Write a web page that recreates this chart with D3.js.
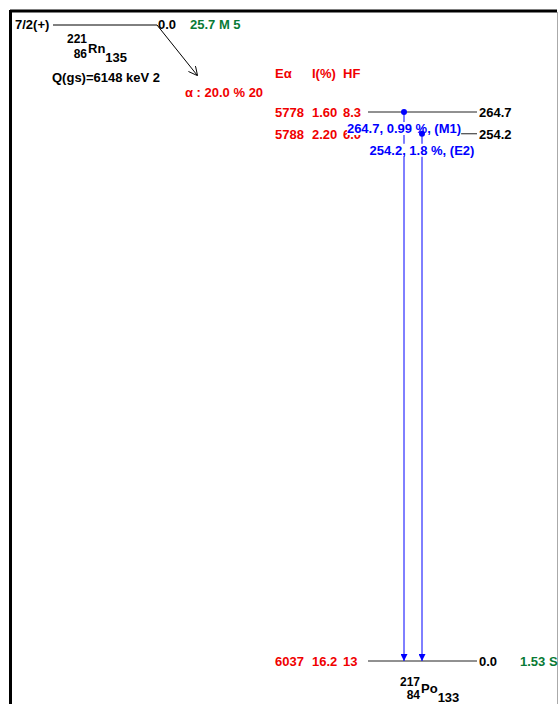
<html>
<head>
    <title>221Rn alpha decay</title>
    <style>
        body { margin: 0; background: #fff; }
        text { font-family: "Liberation Sans", Arial, sans-serif; font-weight: bold; font-size: 13px; }
        text.iso { font-size: 12px; }
    </style>
</head>
<body>
    <svg width="559" height="704"></svg>

    <script src="https://cdn.jsdelivr.net/npm/d3@7/dist/d3.min.js"></script>
    <script>
        // parent nucleus
        const parentSpin = "7/2(+)";
        const parentLevel = "0.0";
        const parentHalfLife = "25.7 M 5";
        const parentNuclide = { A: "221", Z: "86", sym: "Rn", N: "135" };
        const qValue = "Q(gs)=6148 keV 2";
        const alphaBranch = "\u03b1 : 20.0 % 20";

        // daughter levels (keV)
        const levelEnergies = [0, 254.2, 264.7];
        const levelLabels = ["0.0", "254.2", "264.7"];
        const levelHalfLives = ["1.53 S", "", ""];
        const daughterNuclide = { A: "217", Z: "84", sym: "Po", N: "133" };

        // alpha feeding table: E alpha, intensity, hindrance factor
        const alphaHeader = ["E\u03b1", "I(%)", "HF"];
        const alphaE = ["6037", "5788", "5778"];
        const alphaI = ["16.2", "2.20", "1.60"];
        const alphaHF = ["13", "6.0", "8.3"];

        // gammas
        const gammaFrom = [264.7, 254.2];
        const gammaTo = [0, 0];
        const gammaLabels = ["264.7, 0.99 %, (M1)", "254.2, 1.8 %, (E2)"];

        const red = "#f00000", green = "#087a35", blue = "#0000ff";

        const svg = d3.select("svg");

        // frame
        svg.append("line").attr("x1", 10).attr("y1", 11).attr("x2", 557).attr("y2", 11)
            .attr("stroke", "#000").attr("stroke-width", 3);
        svg.append("line").attr("x1", 10.5).attr("y1", 10).attr("x2", 10.5).attr("y2", 704)
            .attr("stroke", "#000").attr("stroke-width", 3);
        svg.append("line").attr("x1", 557.5).attr("y1", 12).attr("x2", 557.5).attr("y2", 704)
            .attr("stroke", "#aaa").attr("stroke-width", 1);

        const defs = svg.append("defs");
        defs.append("marker").attr("id", "open").attr("viewBox", "0 0 10 10")
            .attr("refX", 9).attr("refY", 5).attr("markerWidth", 9).attr("markerHeight", 9)
            .attr("orient", "auto").attr("markerUnits", "userSpaceOnUse")
            .append("path").attr("d", "M0,0 L10,5 L0,10").attr("fill", "none").attr("stroke", "#000");
        defs.append("marker").attr("id", "blueHead").attr("viewBox", "0 0 10 10")
            .attr("refX", 10).attr("refY", 5).attr("markerWidth", 9).attr("markerHeight", 7)
            .attr("orient", "auto").attr("markerUnits", "userSpaceOnUse")
            .append("path").attr("d", "M0,0 L10,5 L0,10 Z").attr("fill", blue);

        // parent level
        const pY = 25;
        svg.append("text").attr("x", 15).attr("y", pY + 4).text(parentSpin);
        svg.append("line").attr("x1", 53).attr("x2", 157).attr("y1", pY).attr("y2", pY)
            .attr("stroke", "#000");
        svg.append("text").attr("x", 158).attr("y", pY + 4).text(parentLevel);
        svg.append("text").attr("x", 190).attr("y", pY + 4).attr("fill", green).text(parentHalfLife);
        svg.append("line").attr("x1", 157).attr("y1", pY).attr("x2", 197).attr("y2", 75)
            .attr("stroke", "#000").attr("marker-end", "url(#open)");

        // A on top, Z below, symbol, N as subscript
        function nuclide(n, x, yA, yZ, ySym, yN) {
            svg.append("text").attr("class", "iso").attr("x", x).attr("y", yA)
                .attr("text-anchor", "end").text(n.A);
            svg.append("text").attr("class", "iso").attr("x", x).attr("y", yZ)
                .attr("text-anchor", "end").text(n.Z);
            const s = svg.append("text").attr("x", x + 1).attr("y", ySym).text(n.sym);
            const sw = s.node().getComputedTextLength();
            svg.append("text").attr("x", x + 1 + sw).attr("y", yN).text(n.N);
        }
        nuclide(parentNuclide, 87, 43, 58, 53, 62);
        svg.append("text").attr("x", 52).attr("y", 82).text(qValue);
        svg.append("text").attr("x", 185).attr("y", 97).attr("fill", red).text(alphaBranch);

        // daughter scheme
        const y = d3.scaleLinear().domain([0, d3.max(levelEnergies)]).range([661, 112]);
        const lineX0 = 368, lineX1 = 477;
        const cols = [275, 312, 343];

        svg.selectAll(".hdr").data(alphaHeader).join("text").attr("class", "hdr")
            .attr("x", (d, i) => cols[i]).attr("y", 78).attr("fill", red).text(d => d);

        const lv = svg.selectAll(".lvl").data(levelEnergies).join("g").attr("class", "lvl");
        lv.append("line").attr("x1", lineX0).attr("x2", lineX1)
            .attr("y1", d => y(d)).attr("y2", d => y(d)).attr("stroke", "#222");
        lv.append("text").attr("x", lineX1 + 2).attr("y", d => y(d) + 5).text((d, i) => levelLabels[i]);
        lv.append("text").attr("x", 520).attr("y", d => y(d) + 5).attr("fill", green)
            .text((d, i) => levelHalfLives[i]);
        [alphaE, alphaI, alphaHF].forEach((col, c) => {
            lv.append("text").attr("x", cols[c]).attr("y", d => y(d) + 5).attr("fill", red)
                .text((d, i) => col[i]);
        });

        const gx = d3.scalePoint().domain(gammaLabels).range([404, 422]);
        const gm = svg.selectAll(".gam").data(gammaLabels).join("g").attr("class", "gam");
        gm.append("line").attr("x1", d => gx(d)).attr("x2", d => gx(d))
            .attr("y1", (d, i) => y(gammaFrom[i])).attr("y2", (d, i) => y(gammaTo[i]))
            .attr("stroke", blue).attr("marker-end", "url(#blueHead)");
        gm.append("circle").attr("cx", d => gx(d)).attr("cy", (d, i) => y(gammaFrom[i]))
            .attr("r", 3).attr("fill", blue);

        // gamma labels on white boxes
        gm.each(function (d, i) {
            const g = d3.select(this);
            const ty = y(gammaFrom[i]) + 21;
            const t = g.append("text").attr("x", gx(d)).attr("y", ty)
                .attr("text-anchor", "middle").attr("fill", blue).text(d);
            const b = t.node().getBBox();
            g.insert("rect", "text").attr("x", b.x).attr("y", ty - 11)
                .attr("width", b.width).attr("height", 13).attr("fill", "#fff");
        });

        nuclide(daughterNuclide, 420, 686, 699, 693, 702);
    </script>
</body>
</html>
